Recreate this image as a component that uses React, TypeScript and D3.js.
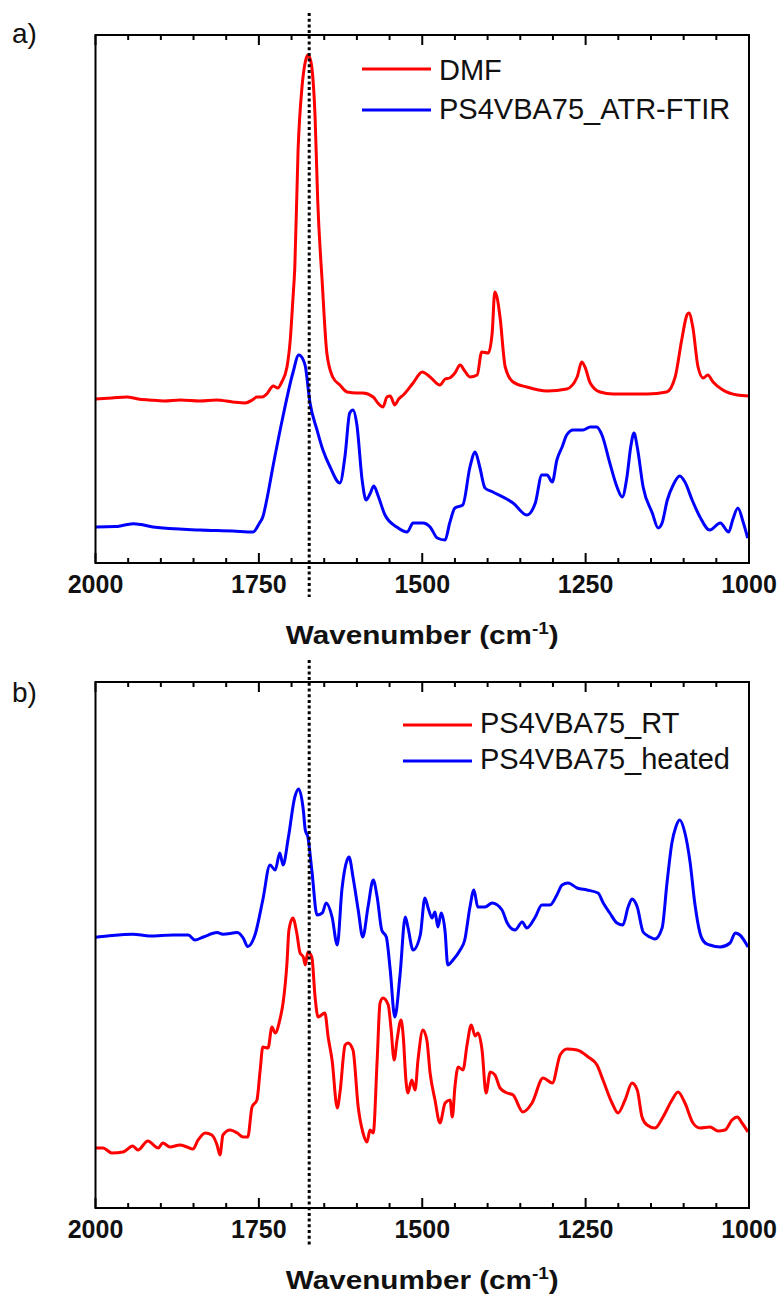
import React from "react";
import * as d3 from "d3";

// ---------- data (wavenumber in cm^-1, intensity in arbitrary units) ----------
const majorTicks = [2000, 1750, 1500, 1250, 1000];
const minorTicks = [1950, 1900, 1850, 1800, 1700, 1650, 1600, 1550, 1450, 1400, 1350, 1300, 1200, 1150, 1100, 1050];
const markerWavenumber = 1673;

const dmf: [number, number][] = [
  [2000, 0.82], [1975, 0.825], [1952, 0.83], [1935, 0.82], [1917, 0.815], [1895, 0.81], [1870, 0.815],
  [1840, 0.81], [1815, 0.815], [1790, 0.805], [1771, 0.8], [1760, 0.815], [1753, 0.83], [1745, 0.83],
  [1738, 0.845], [1728, 0.885], [1721, 0.875], [1715, 0.905], [1707, 0.98], [1702, 1.115], [1698, 1.315],
  [1695, 1.48], [1690, 2.065], [1684, 2.38], [1679, 2.505], [1675, 2.54], [1672, 2.525], [1669, 2.48],
  [1664, 2.23], [1660, 1.815], [1653, 1.4], [1646, 1.05], [1637, 0.93], [1626, 0.89], [1615, 0.855],
  [1600, 0.85], [1591, 0.85], [1575, 0.83], [1568, 0.8], [1560, 0.78], [1554, 0.83], [1549, 0.835],
  [1542, 0.79], [1536, 0.82], [1529, 0.84], [1514, 0.9], [1500, 0.955], [1488, 0.93], [1473, 0.89],
  [1465, 0.92], [1458, 0.925], [1450, 0.95], [1442, 0.99], [1435, 0.96], [1427, 0.93], [1416, 0.94],
  [1409, 1.055], [1399, 1.05], [1393, 1.15], [1389, 1.355], [1385, 1.32], [1381, 1.23], [1373, 0.98],
  [1361, 0.905], [1340, 0.88], [1309, 0.86], [1279, 0.87], [1263, 0.93], [1256, 1.005], [1251, 0.98],
  [1243, 0.9], [1228, 0.855], [1208, 0.845], [1156, 0.845], [1126, 0.855], [1113, 0.93], [1103, 1.115],
  [1095, 1.24], [1092, 1.25], [1086, 1.18], [1078, 0.98], [1070, 0.925], [1063, 0.94], [1055, 0.905],
  [1040, 0.865], [1018, 0.84], [1000, 0.835],
];

const atrFtir: [number, number][] = [
  [2000, 0.18], [1970, 0.182], [1955, 0.19], [1942, 0.196], [1930, 0.192], [1912, 0.18], [1840, 0.165],
  [1790, 0.16], [1759, 0.155],
  [1749, 0.2], [1744, 0.23], [1738, 0.315], [1728, 0.49], [1713, 0.735], [1698, 0.95], [1689, 1.04],
  [1682, 1.015], [1679, 0.985], [1672, 0.805], [1661, 0.665], [1652, 0.565], [1641, 0.48], [1626, 0.4],
  [1618, 0.54], [1611, 0.75], [1606, 0.765], [1600, 0.69], [1592, 0.415], [1586, 0.315], [1580, 0.345],
  [1574, 0.385], [1568, 0.34], [1557, 0.24], [1539, 0.18], [1523, 0.155], [1514, 0.2], [1499, 0.2],
  [1488, 0.18], [1477, 0.125], [1465, 0.115], [1458, 0.2], [1450, 0.275], [1438, 0.29], [1427, 0.48],
  [1419, 0.555], [1412, 0.48], [1404, 0.375], [1392, 0.355], [1361, 0.3], [1340, 0.24], [1327, 0.3],
  [1317, 0.44], [1309, 0.44], [1301, 0.405], [1294, 0.515], [1286, 0.58], [1279, 0.64], [1269, 0.665],
  [1254, 0.665], [1243, 0.68], [1233, 0.68], [1225, 0.64], [1213, 0.5], [1202, 0.38], [1194, 0.33],
  [1187, 0.425], [1181, 0.58], [1176, 0.65], [1171, 0.58], [1162, 0.38], [1148, 0.25], [1139, 0.175],
  [1133, 0.2], [1125, 0.315], [1116, 0.39], [1106, 0.435], [1098, 0.405], [1087, 0.315], [1075, 0.23],
  [1060, 0.165], [1044, 0.2], [1031, 0.155], [1025, 0.215], [1017, 0.275], [1009, 0.205], [1002, 0.125],
];

const rt: [number, number][] = [
  [2000, 0.3], [1988.5, 0.3], [1975, 0.275], [1958, 0.28], [1943, 0.31], [1935, 0.29], [1920, 0.335],
  [1904, 0.3], [1897, 0.325], [1886, 0.305], [1871, 0.315], [1860, 0.305], [1851, 0.295], [1843, 0.34],
  [1832, 0.375], [1822, 0.365], [1814, 0.315], [1809.5, 0.265], [1805, 0.365], [1794, 0.39], [1783, 0.375],
  [1774, 0.355], [1767, 0.355], [1760.5, 0.505], [1753, 0.54], [1748, 0.69], [1744, 0.805], [1736, 0.8],
  [1730, 0.905], [1725, 0.875], [1718, 0.94], [1713, 1.025], [1707, 1.225], [1704, 1.39], [1698, 1.45],
  [1692, 1.375], [1687, 1.275], [1682, 1.255], [1679, 1.215], [1675, 1.28], [1669, 1.255], [1664, 1.055],
  [1659.5, 0.955], [1649, 0.975], [1644, 0.855], [1638, 0.74], [1630, 0.5], [1626, 0.575], [1618, 0.815],
  [1613.6, 0.825], [1606, 0.79], [1598, 0.505], [1590.6, 0.375], [1584.5, 0.33], [1580, 0.39], [1575, 0.375],
  [1569, 0.74], [1564.6, 1.025], [1560, 1.05], [1552, 1.015], [1548, 0.905], [1543, 0.74], [1538.6, 0.84],
  [1532.5, 0.94], [1529, 0.855], [1525, 0.64], [1522, 0.575], [1516, 0.64], [1511, 0.59], [1506.5, 0.74],
  [1499, 0.89], [1493, 0.84], [1488, 0.675], [1480.5, 0.54], [1473, 0.425], [1465, 0.525], [1457.5, 0.54],
  [1454, 0.455], [1450, 0.605], [1445, 0.705], [1437.6, 0.69], [1431.5, 0.815], [1425, 0.915], [1419, 0.86],
  [1414.7, 0.875], [1408.5, 0.79], [1402.4, 0.575], [1396, 0.68], [1388.7, 0.665], [1381, 0.6], [1370, 0.575],
  [1361, 0.565], [1346, 0.48], [1332, 0.525], [1315, 0.65], [1301, 0.625], [1289, 0.765], [1278.5, 0.795],
  [1263, 0.79], [1246, 0.755], [1232.6, 0.715], [1223.4, 0.64], [1209.6, 0.525], [1200.4, 0.475],
  [1189.7, 0.54], [1179, 0.625], [1171, 0.59], [1163.7, 0.455], [1156, 0.415], [1143.8, 0.4], [1131.6, 0.455],
  [1117.8, 0.54], [1108.6, 0.58], [1098, 0.525], [1085.7, 0.425], [1075, 0.4], [1059.7, 0.405],
  [1047.4, 0.385], [1036.7, 0.39], [1026, 0.44], [1018, 0.455], [1010.7, 0.425], [1001.5, 0.38],
];

const heated: [number, number][] = [
  [2000, 1.354], [1982, 1.36], [1943, 1.369], [1917, 1.36], [1881, 1.365], [1858, 1.365], [1848, 1.34],
  [1835, 1.355], [1814, 1.377], [1805, 1.369], [1783, 1.377], [1774, 1.35], [1767, 1.307], [1756, 1.365],
  [1744, 1.54], [1733, 1.715], [1725, 1.69], [1718, 1.775], [1713, 1.715], [1705, 1.85], [1695, 2.055],
  [1689, 2.095], [1682, 1.99], [1679, 1.89], [1675, 1.855], [1669, 1.69], [1661, 1.465], [1653, 1.475],
  [1647, 1.525], [1638, 1.455], [1630, 1.315], [1623, 1.59], [1615, 1.74], [1612, 1.755], [1606, 1.655],
  [1598, 1.49], [1591, 1.355], [1583, 1.505], [1575, 1.64], [1569, 1.555], [1562, 1.39], [1555, 1.355],
  [1549, 1.19], [1542, 0.955], [1534, 1.165], [1526, 1.455], [1522, 1.405], [1514, 1.29], [1503, 1.365],
  [1496, 1.55], [1491, 1.5], [1485, 1.45], [1480.5, 1.48], [1476, 1.405], [1471, 1.475], [1465, 1.38],
  [1461, 1.215], [1453, 1.24], [1442, 1.29], [1435, 1.34], [1427, 1.505], [1421, 1.59], [1415, 1.505],
  [1404, 1.505], [1393, 1.525], [1378, 1.49], [1370, 1.425], [1358, 1.39], [1347, 1.43], [1340, 1.4],
  [1327, 1.455], [1317, 1.515], [1304.5, 1.515], [1294, 1.565], [1286, 1.615], [1277, 1.625], [1263, 1.6],
  [1248, 1.59], [1231, 1.575], [1223, 1.525], [1213, 1.475], [1202, 1.425], [1193, 1.415], [1185, 1.505],
  [1179, 1.545], [1171, 1.505], [1162, 1.38], [1151.5, 1.355], [1144, 1.345], [1133, 1.4], [1125.5, 1.625],
  [1118, 1.825], [1112, 1.905], [1106, 1.94], [1098, 1.875], [1090, 1.725], [1083, 1.525], [1075, 1.375],
  [1067, 1.325], [1060, 1.315], [1044, 1.305], [1029, 1.325], [1021, 1.375], [1014, 1.365], [1001.5, 1.305],
];

const panelLabels = ["a)", "b)"];
const legendNamesA = ["DMF", "PS4VBA75_ATR-FTIR"];
const legendNamesB = ["PS4VBA75_RT", "PS4VBA75_heated"];
const xTitle = "Wavenumber (cm";

// ---------- layout ----------
const W = 784;
const H = 1302;
const LEFT = 95.5;
const RIGHT = 749;
const RED = "#ff0000";
const BLUE = "#0000ff";
const FONT = "'Liberation Sans', Arial, Helvetica, sans-serif";

type Series = { name: string; color: string; data: [number, number][] };

interface PanelCfg {
  id: string;
  label: string;
  top: number;
  bottom: number;
  yMax: number;
  series: Series[];
  legendX: number;
  legendTextX: number;
  legendY: number[];
  legendTextY: number[];
  labelY: number;
  dotTop: number;
  dotBottom: number;
}

const panels: PanelCfg[] = [
  {
    id: "a",
    label: panelLabels[0],
    top: 35,
    bottom: 563,
    yMax: 2.64,
    series: [
      { name: legendNamesA[0], color: RED, data: dmf },
      { name: legendNamesA[1], color: BLUE, data: atrFtir },
    ],
    legendX: 362,
    legendTextX: 439,
    legendY: [69, 110],
    legendTextY: [80, 119],
    labelY: 43,
    dotTop: 13,
    dotBottom: 597,
  },
  {
    id: "b",
    label: panelLabels[1],
    top: 682,
    bottom: 1208,
    yMax: 2.63,
    series: [
      { name: legendNamesB[0], color: RED, data: rt },
      { name: legendNamesB[1], color: BLUE, data: heated },
    ],
    legendX: 403,
    legendTextX: 480,
    legendY: [725, 761],
    legendTextY: [733, 769],
    labelY: 702,
    dotTop: 660,
    dotBottom: 1245,
  },
];

const x = d3.scaleLinear().domain([2000, 1000]).range([LEFT, RIGHT]);

function Panel({ p }: { p: PanelCfg }) {
  const y = d3.scaleLinear().domain([0, p.yMax]).range([p.bottom, p.top]);
  const line = d3
    .line<[number, number]>()
    .x((d) => x(d[0]))
    .y((d) => y(d[1]))
    .curve(d3.curveMonotoneX);
  const clipId = `clip-${p.id}`;
  const tickLabelY = p.bottom + 30;
  const titleY = p.bottom + 81;
  const cx = (LEFT + RIGHT) / 2;
  return (
    <g>
      <defs>
        <clipPath id={clipId}>
          <rect x={LEFT} y={p.top} width={RIGHT - LEFT} height={p.bottom - p.top} />
        </clipPath>
      </defs>
      <text x={12} y={p.labelY} fontFamily={FONT} fontSize={28} fill="#111">
        {p.label}
      </text>
      <g clipPath={`url(#${clipId})`}>
        {p.series.map((s) => (
          <path
            key={s.name}
            d={line(s.data) || ""}
            fill="none"
            stroke={s.color}
            strokeWidth={3}
            strokeLinejoin="round"
          />
        ))}
      </g>
      {/* frame */}
      <rect
        x={LEFT}
        y={p.top}
        width={RIGHT - LEFT}
        height={p.bottom - p.top}
        fill="none"
        stroke="#000"
        strokeWidth={2}
      />
      {/* ticks */}
      {majorTicks.map((t) => (
        <g key={`M${t}`}>
          <line x1={x(t)} x2={x(t)} y1={p.bottom} y2={p.bottom - 10} stroke="#000" strokeWidth={2} />
          <line x1={x(t)} x2={x(t)} y1={p.top} y2={p.top + 10} stroke="#000" strokeWidth={2} />
          <text
            x={x(t)}
            y={tickLabelY}
            textAnchor="middle"
            fontFamily={FONT}
            fontWeight="bold"
            fontSize={25}
            fill="#111"
          >
            {t}
          </text>
        </g>
      ))}
      {minorTicks.map((t) => (
        <g key={`m${t}`}>
          <line x1={x(t)} x2={x(t)} y1={p.bottom} y2={p.bottom - 5} stroke="#000" strokeWidth={2} />
          <line x1={x(t)} x2={x(t)} y1={p.top} y2={p.top + 5} stroke="#000" strokeWidth={2} />
        </g>
      ))}
      {/* axis title */}
      <text
        x={cx}
        y={titleY}
        textAnchor="middle"
        fontFamily={FONT}
        fontWeight="bold"
        fontSize={25}
        fill="#111"
        textLength={273}
        lengthAdjust="spacingAndGlyphs"
      >
        {xTitle}
        <tspan fontSize={16} dy={-10}>
          -1
        </tspan>
        <tspan dy={10}>)</tspan>
      </text>
      {/* legend */}
      {p.series.map((s, i) => (
        <g key={`lg${s.name}`}>
          <line
            x1={p.legendX}
            x2={p.legendX + 69}
            y1={p.legendY[i]}
            y2={p.legendY[i]}
            stroke={s.color}
            strokeWidth={3}
          />
          <text x={p.legendTextX} y={p.legendTextY[i]} fontFamily={FONT} fontSize={29} fill="#111">
            {s.name}
          </text>
        </g>
      ))}
      {/* dotted marker line */}
      <line
        x1={x(markerWavenumber)}
        x2={x(markerWavenumber)}
        y1={p.dotTop}
        y2={p.dotBottom}
        stroke="#000"
        strokeWidth={3}
        strokeDasharray="3 2.7"
      />
    </g>
  );
}

export default function App() {
  return (
    <svg
      width={W}
      height={H}
      viewBox={`0 0 ${W} ${H}`}
      style={{ position: "absolute", left: 0, top: 0, background: "#fff" }}
    >
      <rect x={0} y={0} width={W} height={H} fill="#fff" />
      {panels.map((p) => (
        <Panel key={p.id} p={p} />
      ))}
    </svg>
  );
}
